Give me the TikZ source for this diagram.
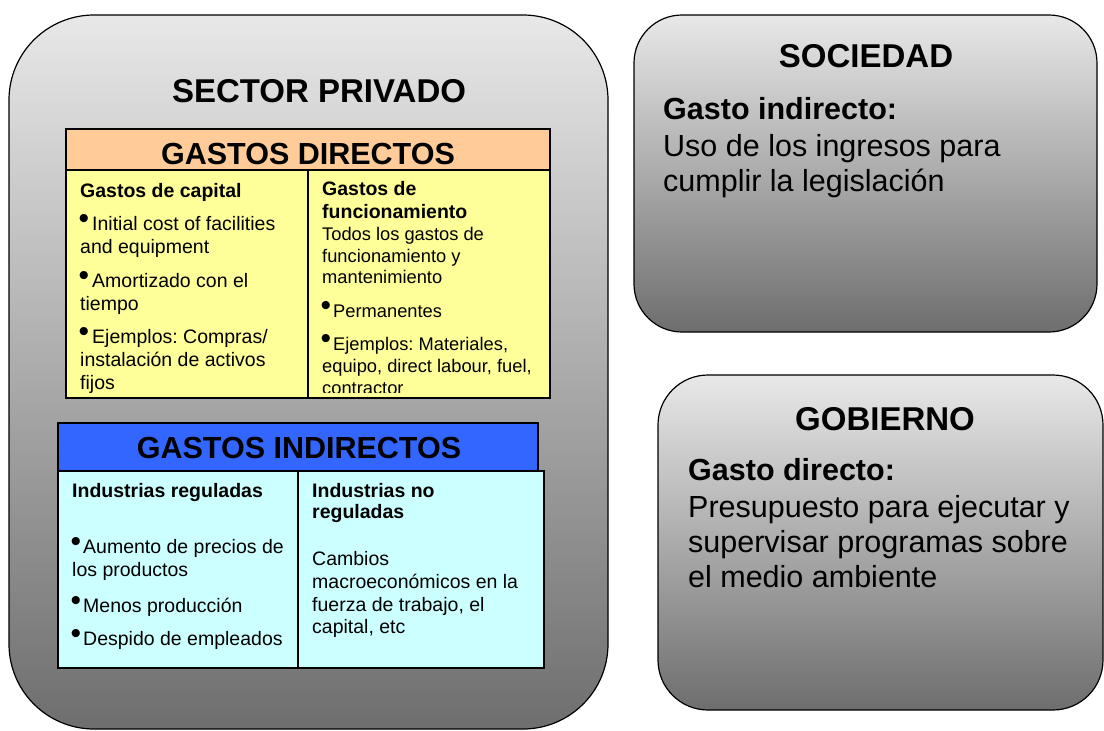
\documentclass[tikz,border=0pt]{standalone}
\usepackage{fontspec}
\setmainfont{Liberation Sans}
\definecolor{peach}{HTML}{FFCC99}
\definecolor{yel}{HTML}{FFFF99}
\definecolor{blu}{HTML}{3366FF}
\definecolor{cyn}{HTML}{CCFFFF}
\definecolor{gtop}{HTML}{E8E8E8}
\definecolor{gbot}{HTML}{6E6E6E}
\newcommand{\bul}[1][12pt]{\makebox[#1][l]{\hspace{-1.5pt}\raisebox{1.5pt}{\fontsize{30}{30}\selectfont •}}}
\frenchspacing
\begin{document}
\begin{tikzpicture}[x=1pt,y=-1pt,
  panel/.style={draw=black, line width=1.2pt, top color=gtop, bottom color=gbot},
  cell/.style={draw=black, line width=1.5pt},
  tx/.style={anchor=base west, inner sep=0pt, font=\fontsize{19.5}{23}\selectfont\frenchspacing},
  txb/.style={tx, font=\fontsize{19.5}{23}\selectfont\bfseries},
  txs/.style={tx, font=\fontsize{18.3}{22}\selectfont\frenchspacing},
  ttl/.style={anchor=base, inner sep=0pt, font=\fontsize{33}{40}\selectfont\bfseries},
  hdr/.style={anchor=base, inner sep=0pt, font=\fontsize{30.5}{36}\selectfont\bfseries},
  rt/.style={anchor=base west, inner sep=0pt, font=\fontsize{30.5}{36}\selectfont},
  rtb/.style={rt, font=\fontsize{30.5}{36}\selectfont\bfseries}]
\fill[white] (0,0) rectangle (1104,731);
\useasboundingbox (0,0) rectangle (1104,731);
\clip (0,0) rectangle (1104,731);

% panels
\draw[panel, rounded corners=85pt] (9,15) rectangle (608,729);
\draw[panel, rounded corners=48pt] (634,15) rectangle (1097,332);
\draw[panel, rounded corners=50pt] (658,375) rectangle (1103,710);

% GASTOS DIRECTOS table
\draw[cell, fill=peach] (66,129) rectangle (550,170);
\draw[cell, fill=yel] (66,170) rectangle (550,398);
\draw[cell] (308,170) -- (308,398);

% GASTOS INDIRECTOS table
\draw[cell, fill=blu] (58,423) rectangle (538,471);
\draw[cell, fill=cyn] (58,471) rectangle (544,668);
\draw[cell] (298,471) -- (298,668);

% titles
\node[ttl] (sp) at (319,102) {SECTOR PRIVADO};
\node[hdr] (gd) at (308,164) {GASTOS DIRECTOS};
\node[hdr] (gi) at (299,458) {GASTOS INDIRECTOS};

% directos text (clipped)
\begin{scope}
\clip (67,171) rectangle (549,392);
\node[txb] (c1) at (80,197) {Gastos de capital};
\node[tx] (c2) at (80,230) {\bul Initial cost of facilities};
\node[tx] (c3) at (80,253) {and equipment};
\node[tx] (c4) at (80,287) {\bul Amortizado con el};
\node[tx] (c5) at (80,310) {tiempo};
\node[tx] (c6) at (80,343) {\bul Ejemplos: Compras/};
\node[tx] (c7) at (80,366) {instalación de activos};
\node[tx] (c8) at (80,389) {fijos};
\node[txb] (f1) at (322,195) {Gastos de};
\node[txb] (f2) at (322,218) {funcionamiento};
\node[txs] (f3) at (322,240) {Todos los gastos de};
\node[txs] (f4) at (322,262) {funcionamiento y};
\node[txs] (f5) at (322,283) {mantenimiento};
\node[txs] (f6) at (322,317) {\bul[11pt]Permanentes};
\node[txs] (f7) at (322,350) {\bul[11pt]Ejemplos: Materiales,};
\node[txs] (f8) at (322,372) {equipo, direct labour, fuel,};
\node[txs] (f9) at (322,394) {contractor};
\end{scope}

% indirectos text
\node[txb] (r1) at (72,497) {Industrias reguladas};
\node[tx] (r2) at (72,553) {\bul[11pt]Aumento de precios de};
\node[tx] (r3) at (72,576) {los productos};
\node[tx] (r4) at (72,612) {\bul[11pt]Menos producción};
\node[tx] (r5) at (72,645) {\bul[11pt]Despido de empleados};
\node[txb] (n1) at (312,497) {Industrias no};
\node[txb] (n2) at (312,518) {reguladas};
\node[tx] (n3) at (312,565) {Cambios};
\node[tx] (n4) at (312,588) {macroeconómicos en la};
\node[tx] (n5) at (312,611) {fuerza de trabajo, el};
\node[tx] (n6) at (312,633) {capital, etc};

% SOCIEDAD
\node[ttl] (so) at (866,67) {SOCIEDAD};
\node[rtb] (s1) at (663,119) {Gasto indirecto:};
\node[rt] (s2) at (663,156) {Uso de los ingresos para};
\node[rt] (s3) at (663,191) {cumplir la legislación};

% GOBIERNO
\node[ttl] (go) at (885,430) {GOBIERNO};
\node[rtb] (g1) at (688,480) {Gasto directo:};
\node[rt] (g2) at (688,517) {Presupuesto para ejecutar y};
\node[rt] (g3) at (688,552) {supervisar programas sobre};
\node[rt] (g4) at (688,587) {el medio ambiente};
\end{tikzpicture}
\end{document}
